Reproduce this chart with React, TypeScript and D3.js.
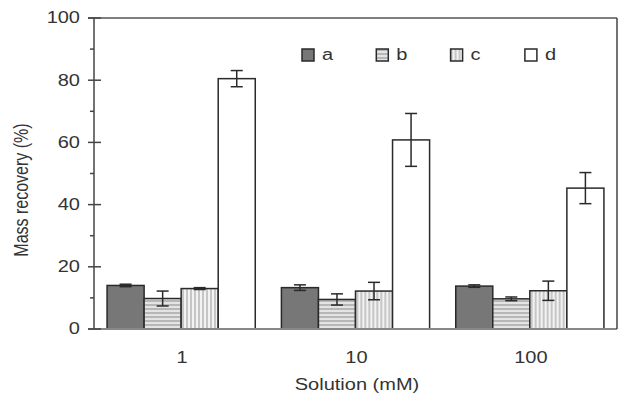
import React from 'react'
import * as d3 from 'd3'

const groups = ['1', '10', '100']
const series = ['a', 'b', 'c', 'd']
// values[group][series]
const values = [
  [14, 9.8, 13, 80.5],
  [13.3, 9.5, 12.2, 60.8],
  [13.8, 9.7, 12.3, 45.3],
]
const errors = [
  [0.4, 2.4, 0.3, 2.6],
  [0.9, 1.8, 2.8, 8.5],
  [0.4, 0.6, 3.1, 5],
]
const majorTicks = [0, 20, 40, 60, 80, 100]
const minorTicks = [10, 30, 50, 70, 90]

const W = 624
const H = 398
const left = 94
const right = 617
const top = 18
const bottom = 329
const font = '"Liberation Sans", Arial, sans-serif'
const fs = 16
const sx = 1.25 // the original is a bit wider than tall
const ink = '#2a2a2a'
const txt = '#333'

const fills: Record<string, string> = {
  a: '#777777',
  b: 'url(#hstripe)',
  c: 'url(#vstripe)',
  d: '#ffffff',
}

// horizontal text, stretched a little sideways like the scan
const Label = ({ x, y, anchor = 'middle', children }: any) => (
  <g transform={`translate(${x},${y}) scale(${sx},1)`}>
    <text textAnchor={anchor} dominantBaseline="central" fontSize={fs} fill={txt}>
      {children}
    </text>
  </g>
)

const App = () => {
  const x0 = d3.scaleBand().domain(groups).range([left, right]).padding(0)
  const bw = x0.bandwidth()
  const x1 = d3
    .scaleBand()
    .domain(series)
    .range([bw * 0.075, bw * 0.925])
    .padding(0)
  const y = d3.scaleLinear().domain([0, 100]).range([bottom, top])

  return (
    <svg
      width={W}
      height={H}
      style={{ position: 'absolute', left: 0, top: 0, background: '#fff' }}
      fontFamily={font}
    >
      <defs>
        <pattern id="hstripe" width="8" height="4" patternUnits="userSpaceOnUse">
          <rect width="8" height="4" fill="#e4e4e4" />
          <line x1="0" y1="1" x2="8" y2="1" stroke="#8a8a8a" strokeWidth="1" />
        </pattern>
        <pattern id="vstripe" width="4" height="8" patternUnits="userSpaceOnUse">
          <rect width="4" height="8" fill="#f2f2f2" />
          <line x1="1" y1="0" x2="1" y2="8" stroke="#9a9a9a" strokeWidth="1" />
        </pattern>
      </defs>

      {/* bars */}
      {groups.map((g, gi) => (
        <g key={g} transform={`translate(${x0(g)},0)`}>
          {series.map((s, si) => {
            const v = values[gi][si]
            const e = errors[gi][si]
            const bx = x1(s) as number
            const cx = bx + x1.bandwidth() / 2
            return (
              <g key={s}>
                <rect
                  x={bx}
                  y={y(v)}
                  width={x1.bandwidth()}
                  height={y(0) - y(v)}
                  fill={fills[s]}
                  stroke={ink}
                  strokeWidth={1.5}
                />
                <g stroke={ink} strokeWidth={1.5}>
                  <line x1={cx} x2={cx} y1={y(v + e)} y2={y(v - e)} />
                  <line x1={cx - 6} x2={cx + 6} y1={y(v + e)} y2={y(v + e)} />
                  <line x1={cx - 6} x2={cx + 6} y1={y(v - e)} y2={y(v - e)} />
                </g>
              </g>
            )
          })}
        </g>
      ))}

      {/* frame */}
      <line x1={88} x2={right} y1={bottom} y2={bottom} stroke="#888" strokeWidth={2} />
      <line x1={88} x2={right} y1={top} y2={top} stroke="#555" strokeWidth={1.5} />
      <line x1={left} x2={left} y1={top} y2={bottom} stroke="#444" strokeWidth={1.5} />
      <line x1={right} x2={right} y1={top} y2={bottom} stroke="#444" strokeWidth={1.5} />

      {/* y ticks */}
      {majorTicks.map((t) => (
        <g key={t}>
          <line x1={88} x2={101} y1={y(t)} y2={y(t)} stroke="#444" strokeWidth={1.5} />
          <Label x={80} y={y(t)} anchor="end">
            {t}
          </Label>
        </g>
      ))}
      {minorTicks.map((t) => (
        <line key={t} x1={90} x2={left} y1={y(t)} y2={y(t)} stroke="#444" strokeWidth={1.5} />
      ))}

      {/* x labels */}
      {groups.map((g) => (
        <Label key={g} x={(x0(g) as number) + bw / 2 + 1} y={358}>
          {g}
        </Label>
      ))}
      <Label x={357} y={385}>
        Solution (mM)
      </Label>
      <g transform={`translate(21,190) rotate(-90) scale(1,${sx})`}>
        <text textAnchor="middle" dominantBaseline="central" fontSize={fs} fill={txt}>
          Mass recovery (%)
        </text>
      </g>

      {/* legend */}
      {series.map((s, i) => (
        <g key={s} transform={`translate(${302 + i * 74.3},49)`}>
          <rect x={0} y={0} width={12} height={12} fill={fills[s]} stroke={ink} strokeWidth={1.5} />
          <Label x={20} y={6} anchor="start">
            {s}
          </Label>
        </g>
      ))}
    </svg>
  )
}

export default App
